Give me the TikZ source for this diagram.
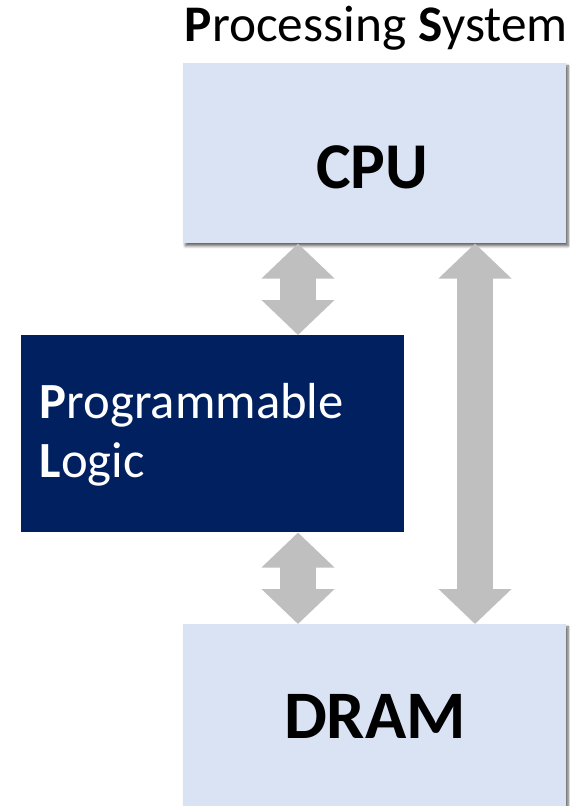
\documentclass[tikz,border=0pt]{standalone}
\usepackage{fontspec}
\setmainfont{Carlito}
\usetikzlibrary{arrows.meta,shadows.blur}
\definecolor{psblue}{HTML}{DAE3F3}
\definecolor{plnavy}{HTML}{002060}
\definecolor{busgray}{HTML}{BFBFBF}

\begin{document}
\begin{tikzpicture}[x=0.75pt,y=-0.75pt,
  psbox/.style={fill=psblue,inner sep=0pt,anchor=north west,
    minimum width=287.25pt,minimum height=135pt,
    blur shadow={shadow xshift=1.5pt,shadow yshift=-2pt,shadow blur radius=2pt,shadow opacity=60}},
  pltext/.style={anchor=base west,text=white,font=\fontsize{38}{44}\selectfont},
  bus/.style={busgray,line width=27pt,{Triangle[length=26.25pt,width=53.25pt]}-{Triangle[length=26.25pt,width=53.25pt]}}]
\useasboundingbox (0,0) rectangle (569,806);
% processing system side
\node [anchor=base west,font=\fontsize{38.5}{44}\selectfont] (pstitle) at (180,42) {\textbf{P}rocessing \textbf{S}ystem};
\node [psbox] (cpu) at (183,63) {};
\node [anchor=base,font=\fontsize{49}{58}\bfseries] (cputxt) at (372,188) {CPU};
\node [psbox,minimum height=150pt] (dram) at (183,624) {};
\node [anchor=base,font=\fontsize{51}{60}\bfseries] (dramtxt) at (375,738) {DRAM};
% programmable logic
\node [fill=plnavy,inner sep=0pt,anchor=north west,minimum width=287.25pt,minimum height=147.75pt] (pl) at (21,335) {};
\node [pltext] (pltxt1) at (35,418) {\textbf{P}rogrammable};
\node [pltext] (pltxt2) at (35,477) {\textbf{L}ogic};
% buses
\coordinate (lx) at (298,0);
\coordinate (rx) at (475,0);
\draw [bus] (cpu.south -| lx) -- (pl.north -| lx);
\draw [bus] (pl.south -| lx) -- (dram.north -| lx);
\draw [bus] (cpu.south -| rx) -- (dram.north -| rx);
\end{tikzpicture}
\end{document}
